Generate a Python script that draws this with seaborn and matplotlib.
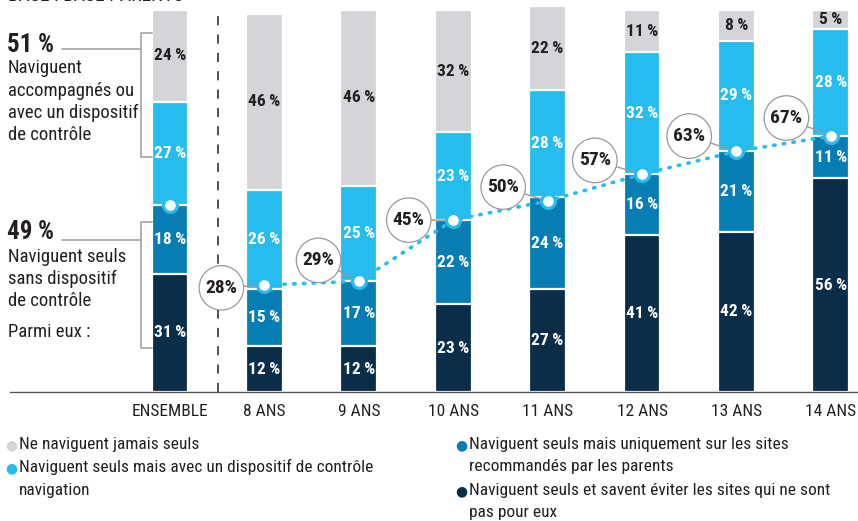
import numpy as np
import pandas as pd
import matplotlib
matplotlib.use("Agg")
import matplotlib.pyplot as plt
import seaborn as sns

categories = ["ENSEMBLE", "8 ANS", "9 ANS", "10 ANS", "11 ANS", "12 ANS", "13 ANS", "14 ANS"]
avoid_sites = [31, 12, 12, 23, 27, 41, 42, 56]        # navy
recommended_only = [18, 15, 17, 22, 24, 16, 21, 11]   # medium blue
control_device = [27, 26, 25, 23, 28, 32, 29, 28]     # cyan
never_alone = [24, 46, 46, 32, 22, 11, 8, 5]          # grey
alone_total = [49, 28, 29, 45, 50, 57, 63, 67]

colors = ["#d3d5d8", "#27bcee", "#077db3", "#0a2d4a"]
text_color = "#231f20"

W, H = 858, 521
sns.set_theme(style="white")
plt.rcParams["font.family"] = ["Roboto Condensed", "DejaVu Sans"]

fig = plt.figure(figsize=(W / 100, H / 100), dpi=100)
ax = fig.add_axes([10 / W, (H - 392) / H, (W - 10) / W, 390 / H])


def px(x, y):
    # pixel coords (from top-left) -> figure fraction
    return x / W, 1 - y / H


df = pd.DataFrame({"cat": categories, "navy": avoid_sites, "blue": recommended_only,
                   "cyan": control_device, "grey": never_alone})
df["c1"] = df["navy"]
df["c2"] = df["c1"] + df["blue"]
df["c3"] = df["c2"] + df["cyan"]
df["c4"] = df["c3"] + df["grey"]

# stacked bars: draw cumulative totals, tallest first
for col, color in zip(["c4", "c3", "c2", "c1"], colors):
    sns.barplot(data=df, x="cat", y=col, color=color, width=0.39,
                edgecolor="white", linewidth=1.6, saturation=1, ax=ax)

# values inside segments
for i in range(len(categories)):
    segs = [(0, df["c1"][i], avoid_sites[i], "white"),
            (df["c1"][i], df["c2"][i], recommended_only[i], "white"),
            (df["c2"][i], df["c3"][i], control_device[i], "white"),
            (df["c3"][i], df["c4"][i], never_alone[i], text_color)]
    for lo, hi, v, tc in segs:
        ax.text(i, (lo + hi) / 2, f"{v}\u2009%", ha="center", va="center",
                fontsize=12.5, fontweight="bold", color=tc)

# dotted line through "seuls sans dispositif" totals
xs = np.arange(1, len(categories))
ax.plot(xs, alone_total[1:], linestyle=(0, (0.4, 2.3)), color="#27bcee",
        linewidth=2.6, dash_capstyle="round", zorder=4)
ax.plot(np.arange(len(categories)), alone_total, linestyle="none", marker="o",
        markersize=10, markerfacecolor="white", markeredgecolor="#27bcee",
        markeredgewidth=2.3, zorder=5)

offsets = [(-31, -2), (-29, 15), (-32, 0), (-32, 10), (-34, 10), (-34, 11), (-32, 13)]
for i, off in zip(xs, offsets):
    ax.annotate(f"{alone_total[i]}%", xy=(i, alone_total[i]), xytext=off,
                textcoords="offset points", ha="center", va="center",
                fontsize=14, fontweight="bold", color=text_color,
                bbox=dict(boxstyle="circle,pad=0.32", fc="white", ec="#999999", lw=0.9),
                arrowprops=dict(arrowstyle="-", color="#999999", lw=1,
                                shrinkA=0, shrinkB=5), zorder=6)

ax.set_xlim(-1.695, 7.288)
ax.set_ylim(0, 102.1)
ax.axvline(0.505, ymin=0, ymax=100 / 102.1, color=text_color, lw=1.1,
           linestyle=(0, (6, 6)))
ax.set_ylabel("")
ax.set_xlabel("")
ax.set_yticks([])
ax.tick_params(axis="x", length=0, pad=9, labelsize=12.5, colors=text_color)
for s in ["top", "left", "right"]:
    ax.spines[s].set_visible(False)
ax.spines["bottom"].set_color("#555555")
ax.spines["bottom"].set_linewidth(1)

# left annotations
fig.text(*px(7, 45), "51 %", fontsize=18, fontweight="bold", color=text_color, va="center")
for k, line in enumerate(["Naviguent", "accompagnés ou", "avec un dispositif", "de contrôle"]):
    fig.text(*px(8, 68 + k * 22.5), line, fontsize=13.5, color=text_color, va="center")
fig.text(*px(7, 232), "49 %", fontsize=18, fontweight="bold", color=text_color, va="center")
for k, line in enumerate(["Naviguent seuls", "sans dispositif", "de contrôle"]):
    fig.text(*px(8, 257 + k * 22), line, fontsize=13.5, color=text_color, va="center")
fig.text(*px(8, 332), "Parmi eux :", fontsize=13.5, color=text_color, va="center")

bracket_color = "#a0a4a8"
for (y0, y1, ym, x0) in [(33, 157, 49, 62), (222, 348, 240, 62)]:
    xa, xb = 141, 152
    pts = [px(xb, y0), px(xa, y0), px(xa, y1), px(xb, y1)]
    fig.add_artist(plt.Line2D([p[0] for p in pts], [p[1] for p in pts],
                              color=bracket_color, lw=1.2))
    fig.add_artist(plt.Line2D([px(x0, ym)[0], px(xa, ym)[0]], [px(x0, ym)[1]] * 2,
                              color=bracket_color, lw=1.2))

# clipped base text at top
fig.text(*px(8, -4), "BASE : BASE PARENTS", fontsize=14, color=text_color, va="center")

# legend
legend_items = [
    (11, 444, colors[0], ["Ne naviguent jamais seuls"]),
    (11, 467, colors[1], ["Naviguent seuls mais avec un dispositif de contrôle", "navigation"]),
    (461, 444, colors[2], ["Naviguent seuls mais uniquement sur les sites",
                           "recommandés par les parents"]),
    (461, 490, colors[3], ["Naviguent seuls et savent éviter les sites qui ne sont",
                           "pas pour eux"]),
]
for x, y, c, lines in legend_items:
    fig.text(*px(x, y + 1), "●", fontsize=10, color=c, va="center", ha="center",
             family="DejaVu Sans")
    for k, line in enumerate(lines):
        fig.text(*px(x + 8, y + k * 23), line, fontsize=12.5, color=text_color, va="center")

fig.savefig("out.png", dpi=100)
